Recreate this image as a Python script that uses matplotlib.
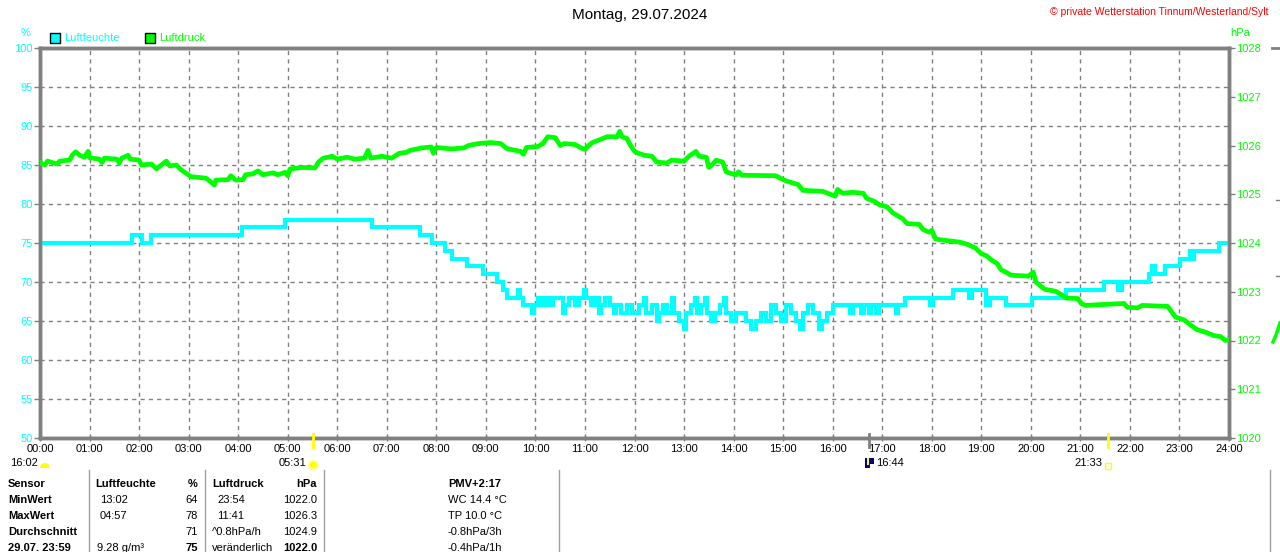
import matplotlib
matplotlib.use('Agg')
import matplotlib.pyplot as plt
from matplotlib.lines import Line2D
from matplotlib.patches import Rectangle, Circle, Wedge
from matplotlib.transforms import IdentityTransform

plt.rcParams['font.family'] = ['Liberation Sans', 'DejaVu Sans']

# --- data ---
hours = list(range(0, 25))
hour_labels = ['%02d:00' % h for h in hours]
hum_ticks = [50, 55, 60, 65, 70, 75, 80, 85, 90, 95, 100]
hpa_ticks = [1020, 1021, 1022, 1023, 1024, 1025, 1026, 1027, 1028]

hum_time = [0.00, 1.85, 2.05, 2.25, 4.08, 4.95, 6.70, 7.67, 7.91, 8.18, 8.32, 8.62, 8.94,
            9.22, 9.35, 9.43, 9.64, 9.68, 9.75, 9.93, 9.97, 10.05, 10.12, 10.20, 10.28,
            10.35, 10.55, 10.59, 10.68, 10.80, 10.88, 10.98, 11.02, 11.12, 11.20, 11.28,
            11.32, 11.40, 11.50, 11.58, 11.62, 11.72, 11.85, 11.95, 12.10, 12.20, 12.24,
            12.35, 12.45, 12.49, 12.58, 12.65, 12.75, 12.79, 12.90, 13.00, 13.04, 13.15,
            13.22, 13.26, 13.35, 13.42, 13.46, 13.55, 13.62, 13.72, 13.80, 13.84, 13.95,
            14.05, 14.25, 14.35, 14.45, 14.55, 14.65, 14.75, 14.85, 14.95, 15.05, 15.15,
            15.25, 15.35, 15.40, 15.50, 15.60, 15.72, 15.78, 15.88, 16.00, 16.35, 16.42,
            16.58, 16.63, 16.73, 16.78, 16.88, 16.93, 17.28, 17.32, 17.45, 17.97, 18.02,
            18.43, 18.75, 18.82, 19.10, 19.17, 19.50, 20.03, 20.70, 21.47, 21.75, 21.85,
            22.38, 22.45, 22.50, 22.70, 23.02, 23.22, 23.25, 23.30, 23.80, 24.00]
hum_val = [75, 76, 75, 76, 77, 78, 77, 76, 75, 74, 73, 72, 71,
           70, 69, 68, 69, 68, 67, 66, 67, 68, 67, 68, 67,
           68, 66, 67, 68, 67, 68, 69, 68, 67, 68, 66,
           67, 68, 67, 66, 67, 66, 67, 66, 67, 68, 66,
           67, 65, 66, 67, 66, 68, 66, 65, 64, 66, 67,
           68, 66, 67, 68, 66, 65, 66, 67, 68, 66, 65,
           66, 65, 64, 65, 66, 65, 67, 66, 65, 67, 66,
           65, 64, 66, 67, 66, 64, 65, 66, 67, 66, 67,
           66, 67, 66, 67, 66, 67, 66, 67, 68, 67, 68,
           69, 68, 69, 67, 68, 67, 68, 69, 70, 69, 70,
           71, 72, 71, 72, 73, 74, 73, 74, 75, 75]

prs_time = [0.00, 0.10, 0.15, 0.35, 0.40, 0.60, 0.65, 0.72, 0.80, 0.90, 0.97, 1.00, 1.20,
            1.25, 1.30, 1.55, 1.60, 1.65, 1.78, 1.82, 2.00, 2.05, 2.25, 2.35, 2.45, 2.55,
            2.62, 2.75, 2.85, 2.95, 3.05, 3.35, 3.45, 3.52, 3.55, 3.80, 3.85, 3.95, 4.10,
            4.15, 4.30, 4.40, 4.50, 4.70, 4.80, 4.95, 5.00, 5.05, 5.30, 5.55, 5.62, 5.72,
            5.90, 6.00, 6.20, 6.35, 6.55, 6.62, 6.68, 6.90, 7.10, 7.25, 7.40, 7.47, 7.70,
            7.90, 7.94, 8.00, 8.30, 8.55, 8.65, 8.85, 9.10, 9.30, 9.42, 9.55, 9.70, 9.76,
            9.82, 10.05, 10.15, 10.25, 10.40, 10.50, 10.58, 10.80, 10.92, 11.00, 11.05,
            11.15, 11.30, 11.45, 11.65, 11.70, 11.75, 11.85, 11.92, 12.00, 12.08, 12.20,
            12.35, 12.45, 12.65, 12.75, 13.00, 13.10, 13.24, 13.30, 13.45, 13.50, 13.58,
            13.65, 13.78, 13.85, 13.97, 14.05, 14.10, 14.17, 14.85, 15.00, 15.10, 15.30,
            15.40, 15.80, 15.90, 16.05, 16.10, 16.20, 16.40, 16.62, 16.68, 16.85, 16.95,
            17.10, 17.21, 17.41, 17.50, 17.75, 17.82, 17.95, 18.00, 18.08, 18.30, 18.55,
            18.70, 18.88, 19.00, 19.10, 19.22, 19.32, 19.40, 19.50, 19.60, 19.95, 20.05,
            20.10, 20.28, 20.50, 20.60, 20.72, 20.95, 21.02, 21.10, 21.88, 21.95, 22.15,
            22.25, 22.76, 22.82, 22.92, 23.10, 23.22, 23.36, 23.50, 23.70, 23.83, 23.93,
            24.00]
prs_val = [1025.65, 1025.60, 1025.68, 1025.62, 1025.68, 1025.70, 1025.80, 1025.87, 1025.80,
           1025.76, 1025.88, 1025.75, 1025.72, 1025.65, 1025.74, 1025.72, 1025.64, 1025.74,
           1025.80, 1025.72, 1025.70, 1025.60, 1025.62, 1025.52, 1025.60, 1025.68, 1025.58,
           1025.60, 1025.50, 1025.43, 1025.36, 1025.33, 1025.25, 1025.19, 1025.29, 1025.30,
           1025.38, 1025.29, 1025.30, 1025.40, 1025.42, 1025.48, 1025.40, 1025.44, 1025.40,
           1025.45, 1025.38, 1025.52, 1025.55, 1025.54, 1025.66, 1025.74, 1025.78, 1025.72,
           1025.76, 1025.72, 1025.74, 1025.90, 1025.74, 1025.78, 1025.74, 1025.84, 1025.86,
           1025.90, 1025.95, 1025.97, 1025.84, 1025.96, 1025.93, 1025.95, 1026.00, 1026.04,
           1026.06, 1026.04, 1025.94, 1025.91, 1025.88, 1025.82, 1025.96, 1025.98, 1026.04,
           1026.18, 1026.16, 1026.00, 1026.04, 1026.02, 1025.95, 1025.92, 1025.98, 1026.06,
           1026.12, 1026.18, 1026.18, 1026.29, 1026.18, 1026.14, 1026.00, 1025.88, 1025.84,
           1025.80, 1025.78, 1025.66, 1025.64, 1025.70, 1025.68, 1025.78, 1025.88, 1025.78,
           1025.76, 1025.55, 1025.62, 1025.70, 1025.66, 1025.46, 1025.42, 1025.40, 1025.46,
           1025.39, 1025.38, 1025.30, 1025.26, 1025.20, 1025.08, 1025.06, 1025.02, 1024.96,
           1025.10, 1025.02, 1025.04, 1025.02, 1024.92, 1024.85, 1024.78, 1024.74, 1024.62,
           1024.50, 1024.40, 1024.38, 1024.28, 1024.22, 1024.26, 1024.08, 1024.05, 1024.02,
           1023.98, 1023.90, 1023.78, 1023.74, 1023.64, 1023.58, 1023.45, 1023.40, 1023.34,
           1023.32, 1023.40, 1023.20, 1023.05, 1023.01, 1022.95, 1022.87, 1022.86, 1022.76,
           1022.72, 1022.76, 1022.68, 1022.67, 1022.72, 1022.70, 1022.62, 1022.48, 1022.42,
           1022.32, 1022.22, 1022.18, 1022.10, 1022.08, 1022.00, 1022.02]

sun_events = [('16:02', 16 + 2 / 60), ('05:31', 5 + 31 / 60), ('16:44', 16 + 44 / 60), ('21:33', 21 + 33 / 60)]

table_rows = ['Sensor', 'MinWert', 'MaxWert', 'Durchschnitt', '29.07. 23:59']
hum_time_col = ['', '13:02', '04:57', '', '9.28 g/m³']
hum_val_col = ['%', '64', '78', '71', '75']
prs_time_col = ['', '23:54', '11:41', '^0.8hPa/h', 'veränderlich']
prs_val_col = ['hPa', '1022.0', '1026.3', '1024.9', '1022.0']
extra_col = ['PMV+2:17', 'WC 14.4 °C', 'TP 10.0 °C', '-0.8hPa/3h', '-0.4hPa/1h']

CYAN = '#00ffff'
GREEN = '#00ff00'
GREY = '#808080'
W, H = 1280, 552
PIX = IdentityTransform()


def fx(x):
    return x / W


def fy(y):
    return 1 - y / H


fig = plt.figure(figsize=(12.8, 5.52), dpi=100)
ax = fig.add_axes([fx(40), fy(438), fx(1229) - fx(40), fy(48) - fy(438)])
ax2 = ax.twinx()

ax.plot(hum_time, hum_val, color=CYAN, lw=3, drawstyle='steps-post', solid_joinstyle='miter', zorder=3)
ax2.plot(prs_time, prs_val, color=GREEN, lw=3.4, zorder=3)

ax.set_xlim(0, 24)
ax.set_ylim(50, 100)
ax2.set_ylim(1020, 1028)
ax.set_xticks(hours)
ax.set_xticklabels(hour_labels, fontsize=8)
ax.set_yticks(hum_ticks)
ax.set_yticklabels([str(v) for v in hum_ticks], fontsize=8, color=CYAN)
ax2.set_yticks(hpa_ticks)
ax2.set_yticklabels([str(v) for v in hpa_ticks], fontsize=8, color=GREEN)
ax.tick_params(axis='x', length=4, width=1, color=GREY, pad=2, direction='inout')
ax.tick_params(axis='y', length=4, width=1, color=GREY, pad=1)
ax2.tick_params(axis='y', length=4, width=1, color=GREY, pad=1)
ax.grid(True, color=GREY, linestyle=(0, (3, 3)), lw=1)
ax.set_axisbelow(True)
for a in (ax, ax2):
    for s in a.spines.values():
        s.set_color(GREY)
        s.set_linewidth(2.5)

# header
fig.text(0.5, fy(15), 'Montag, 29.07.2024', ha='center', va='center', fontsize=11)
fig.text(fx(1268), fy(12), '© private Wetterstation Tinnum/Westerland/Sylt', ha='right', va='center',
         fontsize=7.5, color='red')
fig.text(fx(26), fy(33), '%', ha='center', va='center', fontsize=8, color=CYAN)
fig.text(fx(1240), fy(33), 'hPa', ha='center', va='center', fontsize=8, color=GREEN)
for x0, col, name in [(50, CYAN, 'Luftfeuchte'), (145, GREEN, 'Luftdruck')]:
    fig.add_artist(Rectangle((x0, H - 43), 10, 10, facecolor=col, edgecolor='black', lw=1, transform=PIX))
    fig.text(fx(x0 + 14), fy(38), name, ha='left', va='center', fontsize=8, color=col)

# sunrise / sunset markers
for label, t in sun_events:
    xp = 40 + t / 24 * (1229 - 40)
    if label == '16:02':
        fig.text(fx(38), fy(463), label, ha='right', va='center', fontsize=8)
        fig.add_artist(Wedge((45, H - 468), 5, 0, 180, facecolor='#ffff00', edgecolor='none', transform=PIX))
        continue
    tick_col = GREY if label == '16:44' else '#ffff00'
    fig.add_artist(Line2D([fx(xp), fx(xp)], [fy(434), fy(447)], color=tick_col, lw=2))
    if label == '05:31':
        fig.text(fx(306), fy(463), label, ha='right', va='center', fontsize=8)
        fig.add_artist(Circle((xp, H - 465), 5.5, facecolor='#ffffa0', edgecolor='none', transform=PIX))
        fig.add_artist(Circle((xp, H - 465), 3.5, facecolor='#ffff00', edgecolor='none', transform=PIX))
    elif label == '16:44':
        fig.add_artist(Rectangle((865, H - 468), 9, 10, facecolor='#000080', edgecolor='none', transform=PIX))
        fig.add_artist(Rectangle((870, H - 468), 4, 4, facecolor='white', edgecolor='none', transform=PIX))
        fig.add_artist(Line2D([fx(868), fx(868)], [fy(459), fy(464)], color='#ffff00', lw=1.5))
        fig.text(fx(876), fy(463), label, ha='left', va='center', fontsize=8)
    else:
        fig.text(fx(1102), fy(463), label, ha='right', va='center', fontsize=8)
        fig.add_artist(Rectangle((1105, H - 469), 6, 6, facecolor='none', edgecolor='#ffff00', lw=1,
                                 transform=PIX))

# table
for xl in [89, 205, 324, 559, 1270]:
    fig.add_artist(Line2D([fx(xl), fx(xl)], [fy(470), 0], color='#a0a0a0', lw=1))
row_y = [484, 500, 516, 532, 548]
for i, y in enumerate(row_y):
    bold_all = 'bold' if i == 0 else 'normal'
    fig.text(fx(8), fy(y), table_rows[i], ha='left', va='center', fontsize=8, fontweight='bold')
    if i == 0:
        fig.text(fx(95), fy(y), 'Luftfeuchte', ha='left', va='center', fontsize=8, fontweight='bold')
        fig.text(fx(212), fy(y), 'Luftdruck', ha='left', va='center', fontsize=8, fontweight='bold')
    else:
        fig.text(fx(100 if i < 4 else 97), fy(y), hum_time_col[i], ha='left', va='center', fontsize=8)
        fig.text(fx(217 if i < 3 else 212), fy(y), prs_time_col[i], ha='left', va='center', fontsize=8)
    w = 'bold' if i in (0, 4) else 'normal'
    fig.text(fx(198), fy(y), hum_val_col[i], ha='right', va='center', fontsize=8, fontweight=w)
    fig.text(fx(317), fy(y), prs_val_col[i], ha='right', va='center', fontsize=8, fontweight=w)
    fig.text(fx(448), fy(y), extra_col[i], ha='left', va='center', fontsize=8, fontweight=bold_all)

# cut-off edge of the neighbouring chart
fig.add_artist(Line2D([fx(1272), fx(1280)], [fy(48), fy(48)], color=GREY, lw=2))
for yd in [200, 276]:
    fig.add_artist(Line2D([fx(1276), fx(1280)], [fy(yd), fy(yd)], color=GREY, lw=1))
fig.add_artist(Line2D([fx(1273), fx(1276), fx(1280)], [fy(342), fy(335), fy(323)], color=GREEN, lw=2.5))

fig.savefig('out.png', dpi=100, facecolor='white')
